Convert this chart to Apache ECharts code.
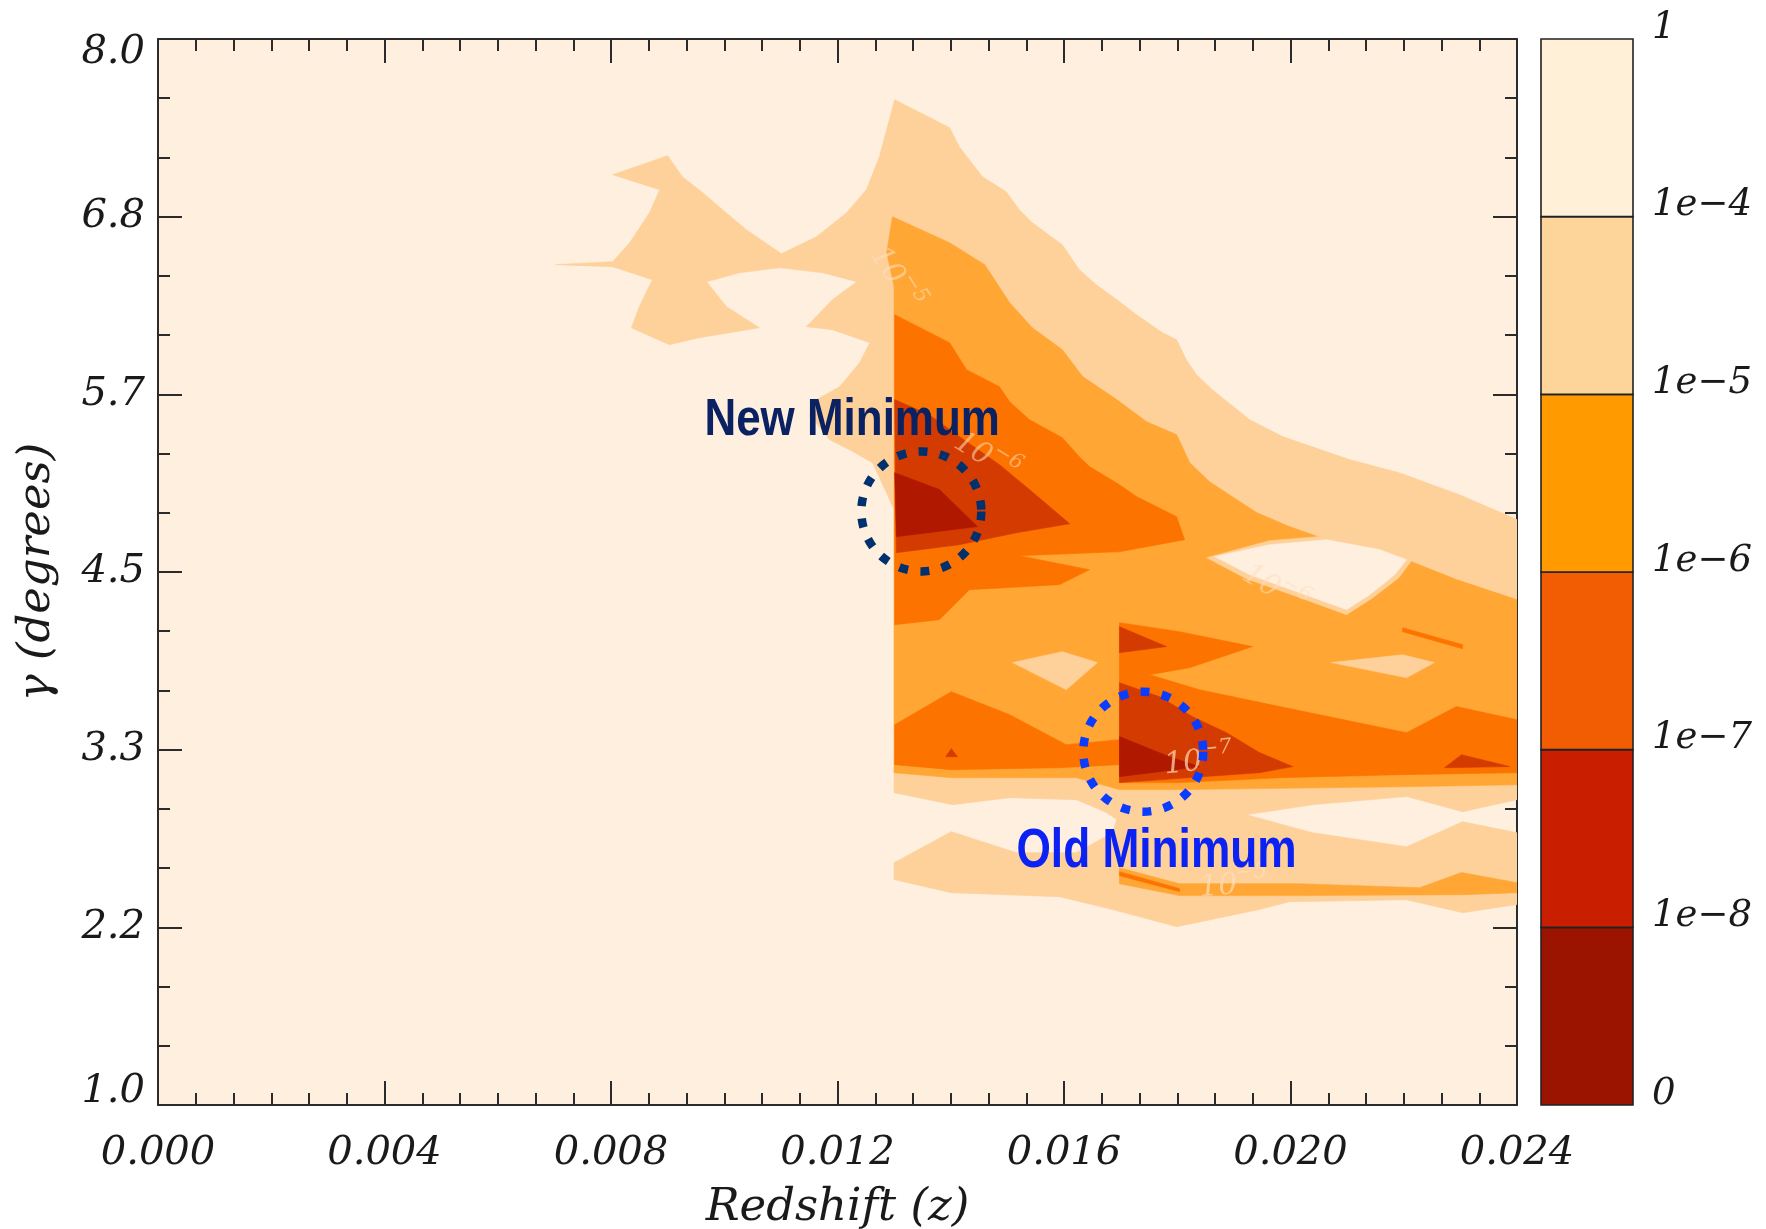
<!DOCTYPE html>
<html><head><meta charset="utf-8">
<script src="https://cdn.jsdelivr.net/npm/echarts@6/dist/echarts.min.js"></script>
<style>html,body{margin:0;padding:0;background:#fff}#c{width:1766px;height:1229px}</style>
</head><body><div id="c"></div>
<script>
// ---------------- DATA (z = redshift, g = gamma in degrees) ----------------
const xTicks = [0.000, 0.004, 0.008, 0.012, 0.016, 0.020, 0.024];
const yTicks = [1.0, 2.2, 3.3, 4.5, 5.7, 6.8, 8.0];
const cbLabels = ['0', '1e\u22128', '1e\u22127', '1e\u22126', '1e\u22125', '1e\u22124', '1'];
const cbColors = ['#9B1400', '#CA1E00', '#F25C03', '#FF9A00', '#FDD49A', '#FFF0D7'];
const levelColors = ['#FEEFDF', '#FED09A', '#FFA634', '#FD7300', '#D43B00', '#B01800'];

// level 1 (1e-5 .. 1e-4): outer envelope
const L1_main = [[0.00702,6.518],[0.00803,6.538],[0.00833,6.662],[0.00868,6.859],[0.00886,7.010],[0.00803,7.109],[0.00900,7.234],[0.00926,7.096],[0.00962,6.991],[0.00997,6.879],[0.01039,6.748],[0.01101,6.590],[0.01163,6.702],[0.01216,6.859],[0.01251,7.010],[0.01274,7.227],[0.01301,7.601],[0.01398,7.418],[0.01415,7.293],[0.01456,7.096],[0.01498,6.997],[0.01521,6.879],[0.01544,6.794],[0.01597,6.649],[0.01627,6.485],[0.01657,6.387],[0.01698,6.275],[0.01728,6.190],[0.01774,6.071],[0.01799,6.025],[0.01816,5.894],[0.01834,5.796],[0.01862,5.697],[0.01928,5.500],[0.01986,5.389],[0.02104,5.238],[0.02192,5.152],[0.02298,5.008],[0.02400,4.844],[0.02400,3.005],[0.02304,2.926],[0.02205,3.025],[0.02039,2.972],[0.01922,2.906],[0.02039,2.788],[0.02205,2.696],[0.02304,2.860],[0.02400,2.788],[0.02400,2.316],[0.02304,2.263],[0.02205,2.348],[0.01998,2.335],[0.01945,2.283],[0.01799,2.171],[0.01686,2.283],[0.01592,2.368],[0.01401,2.394],[0.01300,2.480],[0.01300,2.591],[0.01401,2.795],[0.01516,2.657],[0.01622,2.657],[0.01686,2.788],[0.01693,2.874],[0.01675,2.920],[0.01622,3.005],[0.01504,3.018],[0.01403,2.972],[0.01300,3.051],[0.01300,4.909],[0.01292,4.975],[0.01262,5.218],[0.01221,5.303],[0.01186,5.369],[0.01151,5.533],[0.01163,5.632],[0.01204,5.717],[0.01239,5.874],[0.01257,6.006],[0.01191,6.091],[0.01145,6.111],[0.01191,6.288],[0.01234,6.406],[0.01174,6.465],[0.01098,6.498],[0.01027,6.465],[0.00969,6.406],[0.01004,6.242],[0.01062,6.104],[0.01009,6.071],[0.00956,6.039],[0.00903,5.993],[0.00836,6.104],[0.00850,6.242],[0.00873,6.419],[0.00803,6.505]];
// level 2 (1e-6 .. 1e-5)
const L2_main = [[0.01297,6.833],[0.01398,6.662],[0.01460,6.518],[0.01504,6.268],[0.01544,6.104],[0.01597,5.960],[0.01633,5.783],[0.01693,5.632],[0.01746,5.487],[0.01799,5.402],[0.01822,5.218],[0.01857,5.093],[0.01940,4.890],[0.01998,4.798],[0.02064,4.712],[0.02205,4.581],[0.02293,4.450],[0.02400,4.318],[0.02400,3.103],[0.02198,3.090],[0.01804,3.071],[0.01698,3.071],[0.01622,3.149],[0.01403,3.149],[0.01300,3.182],[0.01300,6.374],[0.01287,6.597]];
const L1_lensRim = [[0.01852,4.594],[0.01963,4.706],[0.02064,4.737],[0.02160,4.673],[0.02215,4.581],[0.02191,4.461],[0.02143,4.325],[0.02099,4.220],[0.02012,4.338],[0.01922,4.456]];
const L0_lens = [[0.01866,4.601],[0.01963,4.679],[0.02064,4.712],[0.02157,4.647],[0.02205,4.581],[0.02184,4.482],[0.02140,4.351],[0.02099,4.253],[0.02016,4.364],[0.01928,4.482]];
const L1_diamondA = [[0.01509,3.905],[0.01597,3.977],[0.01659,3.905],[0.01604,3.727]];
const L1_diamondB = [[0.02072,3.905],[0.02198,3.957],[0.02254,3.905],[0.02205,3.806]];
const L2_lowStrip = [[0.01698,2.558],[0.01804,2.453],[0.02016,2.453],[0.02228,2.427],[0.02302,2.526],[0.02400,2.460],[0.02400,2.394],[0.02302,2.381],[0.02016,2.375],[0.01804,2.375],[0.01698,2.453]];
// level 3 (1e-7 .. 1e-6)
const L3_upper = [[0.01301,6.190],[0.01398,6.006],[0.01428,5.828],[0.01486,5.717],[0.01504,5.618],[0.01539,5.500],[0.01597,5.382],[0.01627,5.257],[0.01645,5.192],[0.01698,5.073],[0.01728,4.995],[0.01799,4.863],[0.01813,4.712],[0.01698,4.633],[0.01521,4.607],[0.01645,4.515],[0.01592,4.417],[0.01433,4.384],[0.01380,4.187],[0.01301,4.154]];
const L3_lowLeft = [[0.01301,3.497],[0.01401,3.714],[0.01504,3.563],[0.01604,3.366],[0.01698,3.399],[0.01698,3.235],[0.01592,3.215],[0.01401,3.202],[0.01301,3.235]];
const L3_oldMin = [[0.01698,4.167],[0.01804,4.108],[0.01933,4.010],[0.01822,3.872],[0.01751,3.826],[0.01839,3.727],[0.01981,3.616],[0.02205,3.445],[0.02293,3.616],[0.02400,3.530],[0.02400,3.182],[0.02192,3.169],[0.01981,3.149],[0.01804,3.117],[0.01698,3.117]];
const L3_lineUpper = [[0.02198,4.134],[0.02304,4.023],[0.02304,3.996],[0.02198,4.108]];
const L3_lineLower = [[0.01698,2.532],[0.01804,2.421],[0.01804,2.401],[0.01698,2.506]];
// level 4 (1e-8 .. 1e-7)
const L4_newMin = [[0.01301,5.632],[0.01362,5.533],[0.01415,5.389],[0.01486,5.205],[0.01539,5.041],[0.01610,4.817],[0.01516,4.758],[0.01415,4.679],[0.01304,4.627]];
const L4_oldMin = [[0.01698,3.773],[0.01769,3.681],[0.01827,3.550],[0.01887,3.445],[0.01945,3.314],[0.02004,3.222],[0.01945,3.182],[0.01698,3.117]];
const L4_small = [[0.01698,4.141],[0.01781,4.010],[0.01698,3.970]];
const L4_right = [[0.02272,3.215],[0.02302,3.300],[0.02387,3.222]];
const L4_dot = [[0.01391,3.287],[0.01401,3.340],[0.01412,3.287]];
// level 5 (< 1e-8)
const L5_newMin = [[0.01301,5.152],[0.01380,5.041],[0.01447,4.798],[0.01304,4.732]];
const L5_oldMin = [[0.01698,3.419],[0.01786,3.287],[0.01839,3.222],[0.01698,3.156]];

// drawing order: [polygon, level]
const layers = [
  [L1_main,1],[L2_main,2],[L1_lensRim,1],[L0_lens,0],[L1_diamondA,1],[L1_diamondB,1],[L2_lowStrip,2],
  [L3_upper,3],[L3_lowLeft,3],[L3_oldMin,3],[L3_lineUpper,3],[L3_lineLower,3],
  [L4_newMin,4],[L4_oldMin,4],[L4_small,4],[L4_right,4],[L4_dot,4],
  [L5_newMin,5],[L5_oldMin,5]
];

// annotations
const newMinCenter = [0.01348, 4.898];
const oldMinCenter = [0.01740, 3.320];
const newMinText = [0.00965, 5.497];
const oldMinText = [0.01516, 2.663];
// contour labels: tilt in radians, positive = clockwise
const contourLabels = [
  {at:[0.01777, 3.228], base:'10', exp:'\u22127', tilt:-0.10, alpha:0.7},
  {at:[0.01839, 2.421], base:'10', exp:'\u22125', tilt:-0.08, alpha:0.7},
  {at:[0.01269, 6.616], base:'10', exp:'\u22125', tilt:1.0, alpha:0.6},
  {at:[0.01410, 5.369], base:'10', exp:'\u22126', tilt:0.55, alpha:0.55},
  {at:[0.01919, 4.502], base:'10', exp:'\u22126', tilt:0.55, alpha:0.55}
];

// ---------------- CHART ----------------
const chart = echarts.init(document.getElementById('c'));
const serif = 'DejaVu Serif';
const tickFont = {fontFamily: serif, fontStyle:'italic', fontSize:40, color:'#1a1a1a'};
const nameFont = {fontFamily: serif, fontStyle:'italic', fontSize:45, color:'#1a1a1a'};
const cbFont = {fontFamily: serif, fontStyle:'italic', fontSize:37, color:'#1a1a1a'};
const lineCol = '#2b2b2b';

function frameAxis(extra){
  return Object.assign({
    type:'value', gridIndex:0,
    axisLine:{show:true, onZero:false, lineStyle:{color:lineCol, width:2}},
    axisTick:{show:true, inside:true, length:24, lineStyle:{color:lineCol, width:2}},
    minorTick:{show:true, length:12, lineStyle:{color:lineCol, width:2}},
    splitLine:{show:false}, minorSplitLine:{show:false}
  }, extra);
}

const option = {
  animation:false,
  backgroundColor:'#ffffff',
  grid:[
    {left:158, top:39, width:1359, height:1066, show:true, backgroundColor:levelColors[0], borderWidth:0,
     containLabel:false, outerBoundsMode:'none'},
    {left:1541, top:39, width:92, height:1066, containLabel:false, outerBoundsMode:'none'}
  ],
  xAxis:[
    frameAxis({position:'bottom', min:0, max:0.024, interval:0.004,
      minorTick:{show:true, splitNumber:6, length:12, lineStyle:{color:lineCol, width:2}},
      axisLabel:Object.assign({margin:29, formatter:v=>v.toFixed(3)}, tickFont),
      name:'Redshift (z)', nameLocation:'middle', nameGap:81, nameTextStyle:Object.assign({}, nameFont)}),
    frameAxis({position:'top', min:0, max:0.024, interval:0.004,
      minorTick:{show:true, splitNumber:6, length:12, lineStyle:{color:lineCol, width:2}},
      axisLabel:{show:false}}),
    {type:'value', gridIndex:1, min:0, max:1, show:false}
  ],
  yAxis:[
    frameAxis({position:'left', min:1, max:8, interval:7/6,
      minorTick:{show:true, splitNumber:3, length:12, lineStyle:{color:lineCol, width:2}},
      axisLabel:Object.assign({margin:13, lineHeight:27, formatter:v=>v.toFixed(1),
        verticalAlignMinLabel:'bottom', verticalAlignMaxLabel:'top'}, tickFont),
      name:'\u03B3 (degrees)', nameLocation:'middle', nameGap:98, nameRotate:90,
      nameTextStyle:Object.assign({}, nameFont)}),
    frameAxis({position:'right', min:1, max:8, interval:7/6,
      minorTick:{show:true, splitNumber:3, length:12, lineStyle:{color:lineCol, width:2}},
      axisLabel:{show:false}}),
    {type:'value', gridIndex:1, position:'right', min:0, max:6, interval:1,
      axisLine:{show:false}, axisTick:{show:false}, splitLine:{show:false},
      axisLabel:Object.assign({margin:19, verticalAlign:'bottom', lineHeight:22,
        formatter:v=>cbLabels[Math.round(v)]}, cbFont)}
  ],
  series:[
    {
      type:'custom', xAxisIndex:0, yAxisIndex:0, clip:true, silent:true, z:2,
      data: layers.map((l,i)=>[l[0][0][0], l[0][0][1], i]),
      renderItem:function(params, api){
        const l = layers[params.dataIndex];
        const pts = l[0].map(p=>api.coord(p));
        return {type:'polygon', shape:{points:pts},
          style:{fill:levelColors[l[1]], stroke:levelColors[l[1]], lineWidth:0.6}};
      }
    },
    {
      type:'custom', xAxisIndex:0, yAxisIndex:0, clip:false, silent:true, z:5,
      data: contourLabels.map(c=>[c.at[0], c.at[1]]),
      renderItem:function(params, api){
        const c = contourLabels[params.dataIndex];
        const p = api.coord(c.at);
        const col = 'rgba(255,222,185,' + c.alpha + ')';
        return {type:'group', x:p[0], y:p[1], rotation:-c.tilt, children:[
          {type:'text', x:0, y:0, style:{text:c.base, font:'italic 30px "DejaVu Serif"', fill:col, textVerticalAlign:'middle'}},
          {type:'text', x:38, y:-12, style:{text:c.exp, font:'italic 21px "DejaVu Serif"', fill:col, textVerticalAlign:'middle'}}
        ]};
      }
    },
    {
      type:'custom', xAxisIndex:0, yAxisIndex:0, clip:false, silent:true, z:10,
      data:[newMinCenter, oldMinCenter, newMinText, oldMinText],
      renderItem:function(params, api){
        const i = params.dataIndex;
        if (i === 0 || i === 1) {
          const c = api.coord(i === 0 ? newMinCenter : oldMinCenter);
          return {type:'circle', shape:{cx:c[0], cy:c[1], r:60},
            style:{fill:null, stroke: i === 0 ? '#00306E' : '#0A3CFF', lineWidth:8.5, lineDash:[9,12.5], lineCap:'butt'}};
        }
        const p = api.coord(i === 2 ? newMinText : oldMinText);
        return {type:'text', x:p[0], y:p[1], scaleX: i === 2 ? 0.845 : 0.79,
          style:{text: i === 2 ? 'New Minimum' : 'Old Minimum',
            font: i === 2 ? 'bold 52px "Liberation Sans"' : 'bold 56px "Liberation Sans"',
            fill: i === 2 ? '#0A2262' : '#0B22F2', textVerticalAlign:'middle', textAlign:'left'}};
      }
    },
    {
      type:'custom', xAxisIndex:2, yAxisIndex:2, clip:false, silent:true,
      data: cbColors.map((c,i)=>[0,i]),
      renderItem:function(params, api){
        const i = params.dataIndex;
        const p0 = api.coord([0,i]), p1 = api.coord([1,i+1]);
        return {type:'rect', shape:{x:p0[0], y:p1[1], width:p1[0]-p0[0], height:p0[1]-p1[1]},
          style:{fill:cbColors[i], stroke:'#222', lineWidth:1.6}};
      }
    }
  ]
};
chart.setOption(option);
</script></body></html>
